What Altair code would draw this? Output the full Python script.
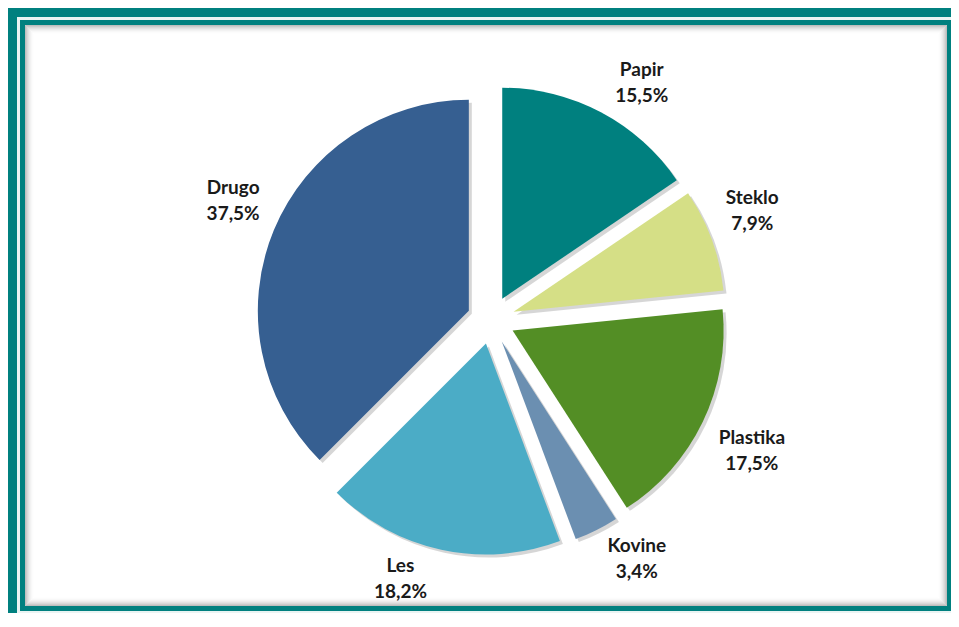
import altair as alt
import pandas as pd

# ---- data ----
categories = ["Papir", "Steklo", "Plastika", "Kovine", "Les", "Drugo"]
values = [15.5, 7.9, 17.5, 3.4, 18.2, 37.5]
colors = ["#00807F", "#D5DF86", "#538E25", "#6B8FB1", "#4BACC6", "#365F91"]

df = pd.DataFrame({"cat": categories, "value": values, "order": list(range(len(categories)))})

# ---- layout constants ----
W, H = 943, 605
CX, CY = 483, 312          # pie centre in chart pixels
R = 211                    # pie radius
EXPLODE = 24               # explosion distance
GX, GY = 14, 6             # label gap from slice edge
LBL_H = 46                 # label block height
TEAL = "#00807F"
FONT = "Lato"
FS = 19

base = (
    alt.Chart(df)
    .transform_joinaggregate(total="sum(value)")
    .transform_window(cum="sum(value)", sort=[alt.SortField("order")], frame=[None, 0])
    .transform_calculate(
        t0="2*PI*(datum.cum - datum.value)/datum.total",
        t1="2*PI*datum.cum/datum.total",
        mid="2*PI*(datum.cum - datum.value/2)/datum.total",
        pct="replace(format(datum.value, '.1f'), '.', ',') + '%'",
    )
    .transform_calculate(
        ux="sin(datum.mid)",
        uy="-cos(datum.mid)",
    )
    .transform_calculate(
        dx=f"{EXPLODE}*datum.ux",
        dy=f"{EXPLODE}*datum.uy",
        sdx=f"{EXPLODE}*datum.ux + 3",
        sdy=f"{EXPLODE}*datum.uy + 3",
        w="max(8.8*length(datum.cat), 10.7*length(datum.pct))",
    )
    .transform_calculate(
        lx=f"{CX} + datum.dx + {R}*datum.ux + (datum.ux > 0 ? 1 : -1)*({GX} + datum.w/2)",
        ly=f"{CY} + datum.dy + {R}*datum.uy + (datum.uy > 0 ? 1 : -1)*({GY} + {LBL_H}/2)",
    )
)

theta = alt.Theta("t0:Q", scale=None)
theta2 = alt.Theta2("t1:Q")

shadow = base.mark_arc(outerRadius=R, color="#000000", opacity=0.16).encode(
    theta=theta, theta2=theta2,
    x=alt.value(CX), y=alt.value(CY),
    xOffset=alt.XOffset("sdx:Q", scale=None),
    yOffset=alt.YOffset("sdy:Q", scale=None),
)

arcs = base.mark_arc(outerRadius=R).encode(
    theta=theta, theta2=theta2,
    x=alt.value(CX), y=alt.value(CY),
    xOffset=alt.XOffset("dx:Q", scale=None),
    yOffset=alt.YOffset("dy:Q", scale=None),
    color=alt.Color("cat:N", scale=alt.Scale(domain=categories, range=colors), legend=None),
)

name_txt = base.mark_text(font=FONT, fontSize=FS, fontWeight="bold", color="#1a1a1a",
                          align="center", baseline="middle", dy=-13).encode(
    x=alt.X("lx:Q", scale=None, axis=None),
    y=alt.Y("ly:Q", scale=None, axis=None),
    text="cat:N",
)
pct_txt = base.mark_text(font=FONT, fontSize=FS, fontWeight="bold", color="#1a1a1a",
                         align="center", baseline="middle", dy=13).encode(
    x=alt.X("lx:Q", scale=None, axis=None),
    y=alt.Y("ly:Q", scale=None, axis=None),
    text="pct:N",
)

# ---- decorative frame ----
frame_df = pd.DataFrame({
    "x": [0, 9, 12, 17],
    "x2": [W, W, W, W - 4],
    "y": [0, 9, 12, 17],
    "y2": [H, H, H - 2, H - 7],
    "c": [TEAL, "#EAF4F3", TEAL, "#FFFFFF"],
})
frame = alt.Chart(frame_df).mark_rect().encode(
    x=alt.X("x:Q", scale=None, axis=None), x2="x2:Q",
    y=alt.Y("y:Q", scale=None, axis=None), y2="y2:Q",
    color=alt.Color("c:N", scale=None),
)

steps = list(range(9))
glow_df = pd.DataFrame({
    "x": [17 + k + 0.5 for k in steps],
    "x2": [W - 4 - k - 0.5 for k in steps],
    "y": [17 + k + 0.5 for k in steps],
    "y2": [H - 7 - k - 0.5 for k in steps],
    "o": [0.45 * (1 - k / 9) ** 2 for k in steps],
})
glow = alt.Chart(glow_df).mark_rect(filled=False, stroke="#6E6E6E", strokeWidth=1).encode(
    x=alt.X("x:Q", scale=None, axis=None), x2="x2:Q",
    y=alt.Y("y:Q", scale=None, axis=None), y2="y2:Q",
    strokeOpacity=alt.StrokeOpacity("o:Q", scale=None),
)

chart = (
    alt.layer(frame, glow, shadow, arcs, name_txt, pct_txt)
    .properties(width=W, height=H, autosize=alt.AutoSizeParams(type="none"), padding=0)
    .configure_view(stroke=None)
)

chart.save("out.html", embed_options={"renderer": "svg", "actions": False})
